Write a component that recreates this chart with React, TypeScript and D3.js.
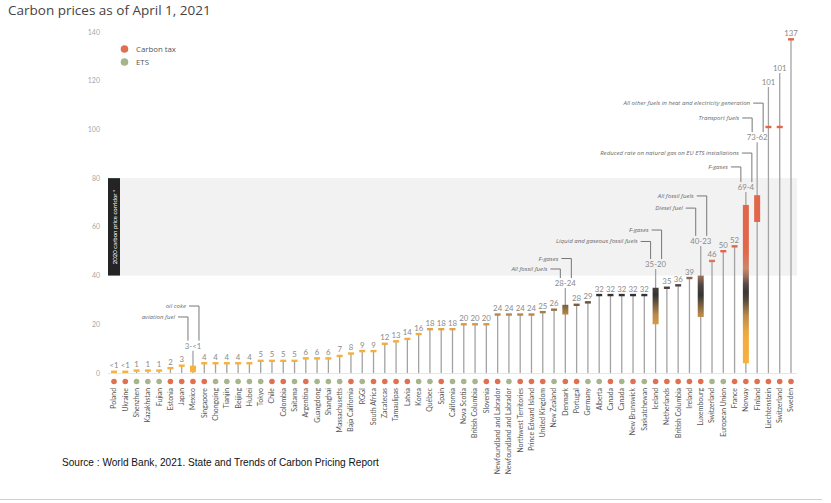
import React from 'react';
import * as d3 from 'd3';

const names = ['Poland','Ukraine','Shenzhen','Kazakhstan','Fujian','Estonia','Japan','Mexico','Singapore','Chongqing','Tianjin','Beijing','Hubei','Tokyo','Chile','Colombia','Saitama','Argentina','Guangdong','Shanghai','Massachusetts','Baja California','RGGI','South Africa','Zacatecas','Tamaulipas','Latvia','Korea','Québec','Spain','California','Nova Scotia','British Columbia','Slovenia','Newfoundland and Labrador','Newfoundland and Labrador','Northwest Territories','Prince Edward Island','United Kingdom','New Zealand','Denmark','Portugal','Germany','Alberta','Canada','Canada','New Brunswick','Saskatchewan','Iceland','Netherlands','British Columbia','Ireland','Luxembourg','Switzerland','European Union','France','Norway','Finland','Liechtenstein','Switzerland','Sweden'];
const kinds = ['tax','tax','ets','ets','ets','tax','tax','tax','tax','ets','ets','ets','ets','ets','tax','tax','ets','tax','ets','ets','ets','tax','ets','tax','tax','tax','tax','ets','ets','tax','ets','ets','ets','tax','tax','ets','tax','tax','tax','ets','tax','tax','ets','ets','tax','ets','tax','ets','tax','tax','tax','tax','tax','ets','ets','tax','tax','tax','tax','tax','tax'];
const highs = [0.5,0.5,1,1,1,2,3,3,4,4,4,4,4,5,5,5,5,6,6,6,7,8,9,9,12,13,14,16,18,18,18,20,20,20,24,24,24,24,25,26,28,28,29,32,32,32,32,32,35,35,36,39,40,46,50,52,69,73,101,101,137];
const lows: (number | null)[] = [null,null,null,null,null,null,null,0.3,null,null,null,null,null,null,null,null,null,null,null,null,null,null,null,null,null,null,null,null,null,null,null,null,null,null,null,null,null,null,null,null,24,null,null,null,null,null,null,null,20,null,null,null,23,null,null,null,4,62,null,null,null];
const labels = ['<1','<1','1','1','1','2','3','3-<1','4','4','4','4','4','5','5','5','5','6','6','6','7','8','9','9','12','13','14','16','18','18','18','20','20','20','24','24','24','24','25','26','28-24','28','29','32','32','32','32','32','35-20','35','36','39','40-23','46','50','52','69-4','73-62','101','101','137'];
const yTicks = [0, 20, 40, 60, 80, 100, 120, 140];
const corridor = [40, 80];

// layout: raised label baselines (data units)
const labelLift: Record<number, number> = { 7: 10, 40: 35.7, 48: 43.5, 52: 53, 56: 75.1, 57: 95.6, 58: 118.2, 59: 124 };
const notes = [
  { i: 7, text: 'oil coke', at: 27.5, side: 1 },
  { i: 7, text: 'aviation fuel', at: 23, side: -1 },
  { i: 40, text: 'F-gases', at: 47, side: 1 },
  { i: 40, text: 'All fossil fuels', at: 42.7, side: -1 },
  { i: 48, text: 'F-gases', at: 58.7, side: 1 },
  { i: 48, text: 'Liquid and gaseous fossil fuels', at: 54, side: -1 },
  { i: 52, text: 'All fossil fuels', at: 72.7, side: 1 },
  { i: 52, text: 'Diesel fuel', at: 67.7, side: -1 },
  { i: 56, text: 'Reduced rate on natural gas on EU ETS installations', at: 90.3, side: 1 },
  { i: 56, text: 'F-gases', at: 84.6, side: -1 },
  { i: 57, text: 'All other fuels in heat and electricity generation', at: 110.8, side: 1 },
  { i: 57, text: 'Transport fuels', at: 104.7, side: -1 },
];

const W = 831, H = 503;
const x = d3.scalePoint<number>().domain(d3.range(names.length)).range([114, 791]);
const y = d3.scaleLinear().domain([0, 140]).range([373, 32]);
const color = d3.scaleLinear<string>()
  .domain([0, 16, 24, 32, 36, 42, 50])
  .range(['#f7b23c', '#f2ab40', '#b8894a', '#333333', '#4e4443', '#c98a6c', '#e2674a'])
  .clamp(true);
const dotColor = { tax: '#e0704f', ets: '#a6b58c' };
const font = 'Lato, "Open Sans", sans-serif';
const wide = '"Open Sans", Lato, sans-serif';

export default function App() {
  return (
    <div style={{ position: 'absolute', left: 0, top: 0 }}>
      <svg width={W} height={H} style={{ display: 'block', background: '#fff' }}>
        <defs>
          {names.map((_, i) => {
            const lo = lows[i];
            if (lo == null) return null;
            const stops = d3.range(0, 1.0001, 0.05);
            return (
              <linearGradient key={i} id={`g${i}`} gradientUnits="userSpaceOnUse" x1={0} x2={0} y1={y(lo)} y2={y(highs[i])}>
                {stops.map((t) => (
                  <stop key={t} offset={t} stopColor={color(lo + (highs[i] - lo) * t)} />
                ))}
              </linearGradient>
            );
          })}
        </defs>
        <text x={8} y={15} fontFamily={wide} fontSize={13.5} fill="#444">Carbon prices as of April 1, 2021</text>

        {/* corridor band */}
        <rect x={108} y={y(corridor[1])} width={797 - 108} height={y(corridor[0]) - y(corridor[1])} fill="#f2f2f2" />
        <rect x={108} y={y(corridor[1])} width={12} height={y(corridor[0]) - y(corridor[1])} fill="#242424" />
        <text transform={`translate(${116.5},${(y(corridor[0]) + y(corridor[1])) / 2}) rotate(-90)`} textAnchor="middle" fontFamily={font} fontSize={6} fill="#fff">2020 carbon price corridor *</text>
        <line x1={108} x2={797} y1={y(0) + 0.5} y2={y(0) + 0.5} stroke="#e6e6e6" />

        {yTicks.map((t) => (
          <text key={t} x={100} y={y(t) + 2.5} textAnchor="end" fontFamily={font} fontSize={7} fill="#a8a8a8">{t}</text>
        ))}

        {/* legend */}
        <circle cx={124.5} cy={49} r={3.8} fill={dotColor.tax} />
        <circle cx={124.5} cy={62} r={3.8} fill={dotColor.ets} />
        <text x={136} y={52} fontFamily={wide} fontSize={7.8} fill="#555">Carbon tax</text>
        <text x={136} y={65} fontFamily={wide} fontSize={7.8} fill="#555">ETS</text>

        {names.map((n, i) => {
          const cx = x(i)!;
          const v = highs[i];
          const lo = lows[i];
          const lift = labelLift[i];
          const labelBase = lift != null ? y(lift) : y(v) - 3.5;
          const stemTop = lift != null ? labelBase + 2 : y(v);
          return (
            <g key={i}>
              {v >= 1 || lift != null ? (
                <line x1={cx} x2={cx} y1={y(0)} y2={stemTop} stroke="#a3a3a3" strokeWidth={1.3} />
              ) : null}
              {lo == null ? (
                <rect x={cx - 3} y={y(v) - 1.2} width={6} height={2.4} fill={color(v)} />
              ) : (
                <rect x={cx - 3} y={y(v)} width={6} height={y(lo) - y(v)} fill={`url(#g${i})`} />
              )}
              <text x={cx} y={labelBase} textAnchor="middle" fontFamily={font} fontSize={7.8} fill="#8a8a8a">{labels[i]}</text>
              <circle cx={cx} cy={381.5} r={2.8} fill={dotColor[kinds[i] as 'tax' | 'ets']} />
              <text transform={`translate(${cx + 2.4},${388}) rotate(-90)`} textAnchor="end" fontFamily={font} fontSize={6.9} fill="#555">{n}</text>
            </g>
          );
        })}

        {notes.map((d, k) => {
          const cx = x(d.i)!;
          const vx = cx + (d.side > 0 ? 6 : -5);
          const ty = y(d.at);
          const lift = labelLift[d.i];
          const bottom = y(lift) - 8;
          return (
            <g key={k}>
              <path d={`M${vx - 10},${ty}H${vx}V${bottom}`} fill="none" stroke="#777" strokeWidth={1} />
              <text x={vx - 13} y={ty + 2} textAnchor="end" fontFamily={wide} fontStyle="italic" fontSize={6.1} fill="#6a6a6a">{d.text}</text>
            </g>
          );
        })}

        <text x={62} y={466} fontFamily={'"Liberation Sans", sans-serif'} fontSize={10.1} fill="#111">Source : World Bank, 2021. State and Trends of Carbon Pricing Report</text>
        <line x1={0} x2={822} y1={499.5} y2={499.5} stroke="#d0d0d0" />
      </svg>
    </div>
  );
}
